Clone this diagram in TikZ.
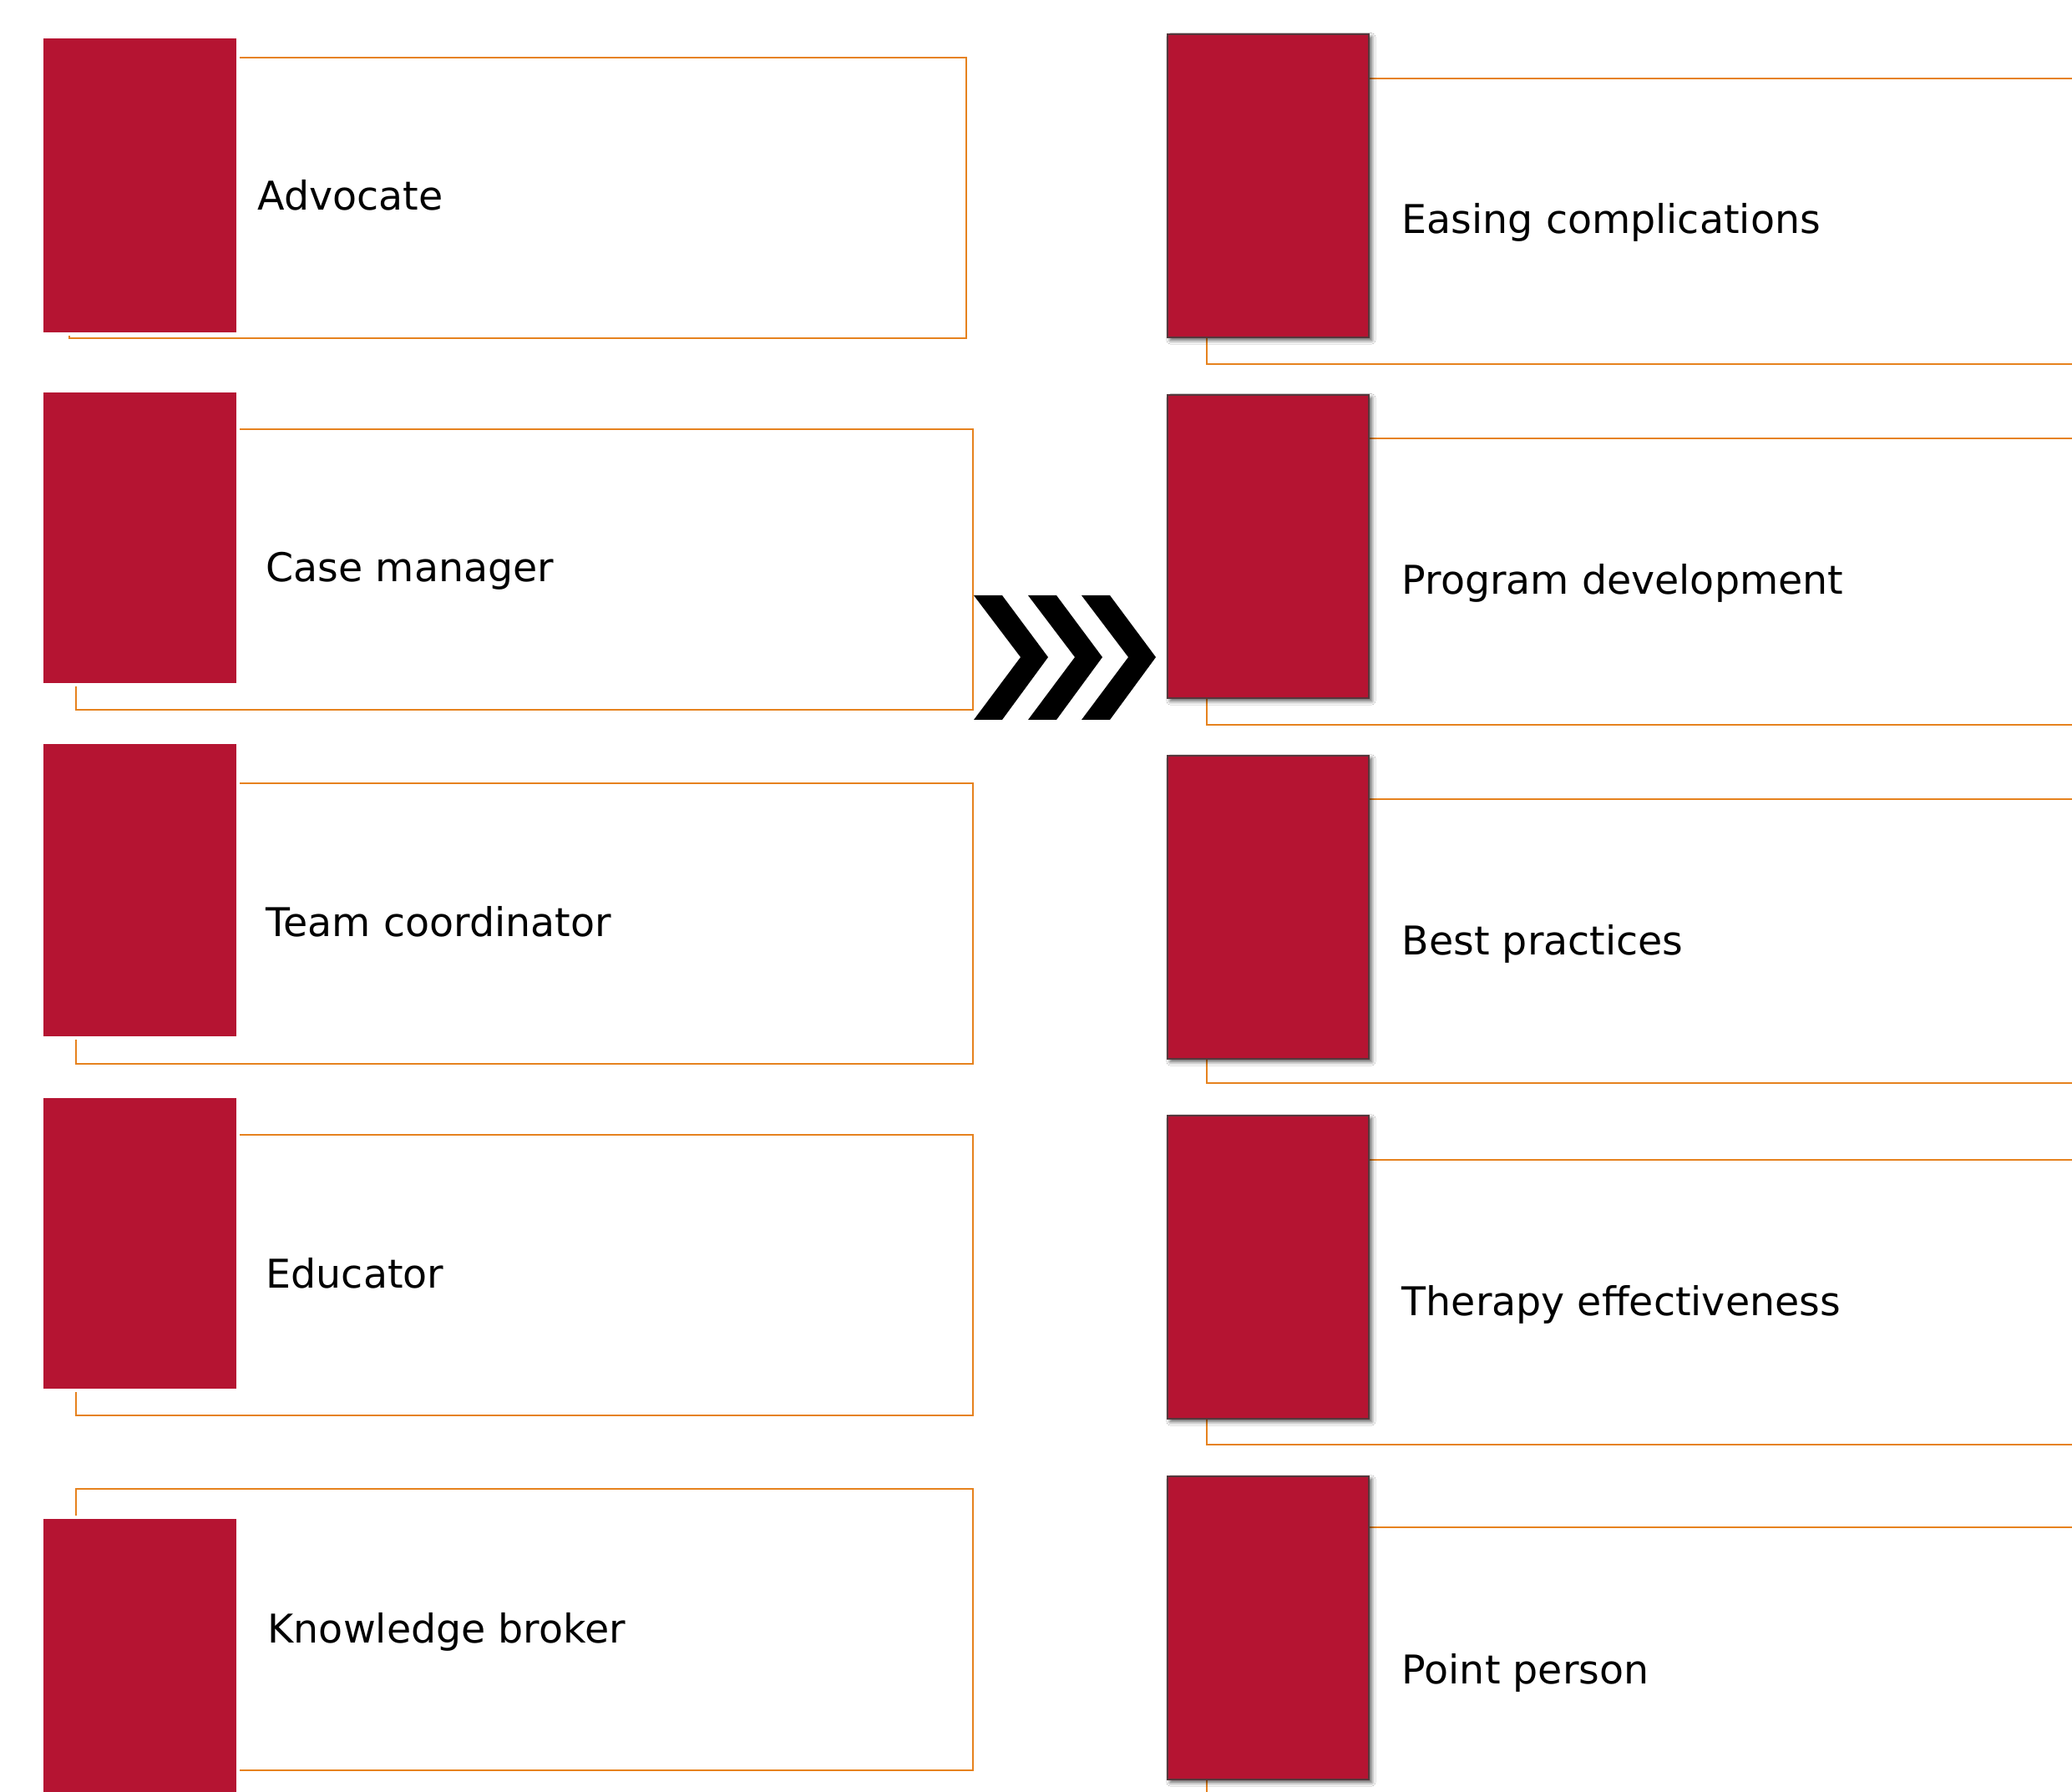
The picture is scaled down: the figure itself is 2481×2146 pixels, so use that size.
\documentclass[tikz,border=0pt]{standalone}
\usepackage{fontspec}
\setmainfont{DejaVu Sans}
\usetikzlibrary{shadows.blur}
\definecolor{cred}{RGB}{181,20,50}
\definecolor{corange}{RGB}{230,130,30}
\definecolor{cedge}{RGB}{85,55,60}
\begin{document}
\begin{tikzpicture}[x=0.01cm,y=-0.01cm,
  frame/.style={draw=corange, line width=0.65pt},
  lbox/.style={fill=cred, draw=white, line width=1.2pt, anchor=north west, minimum width=2.35cm, inner sep=0pt},
  rbox/.style={fill=cred, draw=cedge, line width=0.45pt, anchor=north west, minimum width=2.41cm, minimum height=3.63cm, inner sep=0pt,
    blur shadow={shadow xshift=1pt, shadow yshift=-1pt, shadow blur radius=1.3pt, shadow blur steps=8, shadow opacity=65}},
  lbl/.style={anchor=base west, inner sep=0pt, font=\fontsize{13.5}{16}\selectfont},
  chev/.style={fill=black}]
\clip (0,0) rectangle (2481,2146);
\fill[white] (0,0) rectangle (2481,2146);

% left column frames
\draw[frame] (83,69) rectangle (1157,405);
\draw[frame] (91,514) rectangle (1165,850);
\draw[frame] (91,938) rectangle (1165,1274);
\draw[frame] (91,1359) rectangle (1165,1695);
\draw[frame] (91,1783) rectangle (1165,2120);

% left column red boxes
\node[lbox, minimum height=3.56cm] (L1) at (48,42) {};
\node[lbox, minimum height=3.52cm] (L2) at (48,466) {};
\node[lbox, minimum height=3.54cm] (L3) at (48,887) {};
\node[lbox, minimum height=3.52cm] (L4) at (48,1311) {};
\node[lbox, minimum height=3.60cm] (L5) at (48,1815) {};

% left labels
\node[lbl] (t1) at (308,252) {Advocate};
\node[lbl] (t2) at (318,697) {Case manager};
\node[lbl] (t3) at (318,1121) {Team coordinator};
\node[lbl] (t4) at (318,1542) {Educator};
\node[lbl] (t5) at (320,1967) {Knowledge broker};

% right column frames
\draw[frame] (1445,94) rectangle (2600,436);
\draw[frame] (1445,525) rectangle (2600,868);
\draw[frame] (1445,957) rectangle (2600,1297);
\draw[frame] (1445,1389) rectangle (2600,1730);
\draw[frame] (1445,1829) rectangle (2600,2163);

% right column red boxes
\node[rbox] (R1) at (1397,40) {};
\node[rbox] (R2) at (1397,472) {};
\node[rbox] (R3) at (1397,904) {};
\node[rbox] (R4) at (1397,1335) {};
\node[rbox] (R5) at (1397,1767) {};

% right labels
\node[lbl] (u1) at (1678,280) {Easing complications};
\node[lbl] (u2) at (1678,712) {Program development};
\node[lbl] (u3) at (1678,1143) {Best practices};
\node[lbl] (u4) at (1678,1575) {Therapy effectiveness};
\node[lbl] (u5) at (1678,2016) {Point person};

% chevrons
\foreach \dx in {0,65,129}
  \fill[chev] ({1166+\dx},713) -- ++(34,0) -- ++(55,74) -- ++(-55,75) -- ++(-34,0) -- ++(56,-75) -- cycle;
\end{tikzpicture}
\end{document}
